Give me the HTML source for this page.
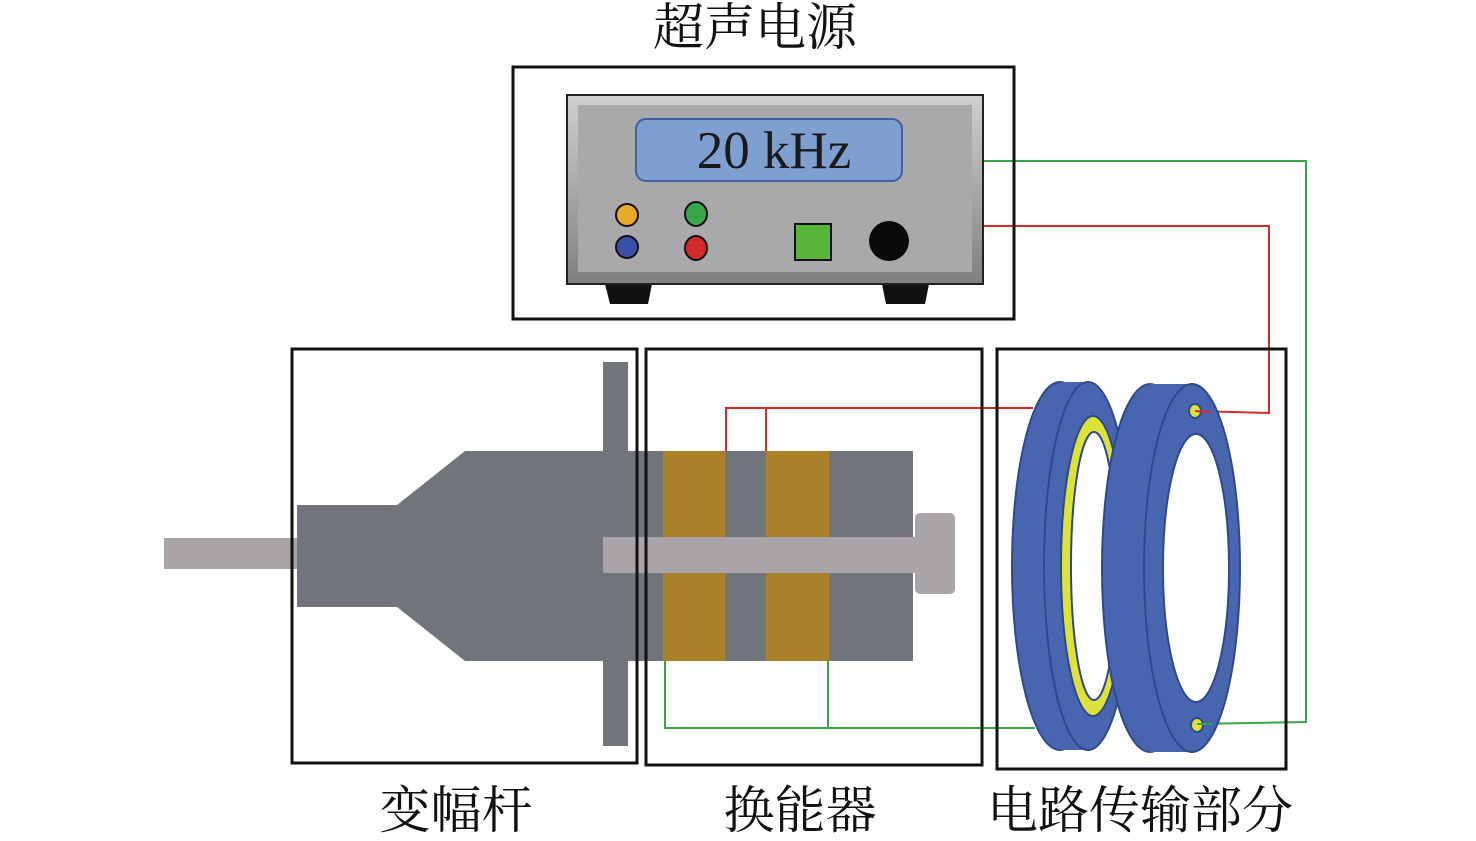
<!DOCTYPE html>
<html><head><meta charset="utf-8"><style>body{margin:0;background:#fff}svg{display:block}</style></head><body>
<svg width="1476" height="841" viewBox="0 0 1476 841" xmlns="http://www.w3.org/2000/svg">
<defs>
<linearGradient id="bz" x1="0" y1="0" x2="0" y2="1"><stop offset="0" stop-color="#d0d0d0"/><stop offset="1" stop-color="#808080"/></linearGradient>
</defs>
<g font-family="'Liberation Serif','Noto Serif CJK SC',serif" fill="#111" text-anchor="middle" font-size="51">
<text x="755" y="45">超声电源</text>
<text x="456" y="828">变幅杆</text>
<text x="800" y="828">换能器</text>
<text x="1140" y="828">电路传输部分</text>
</g>
<g fill="none" stroke-width="2">
<polyline points="983,161 1306,161 1306,722 1197,724" stroke="#3aa64a"/>
<polyline points="983,226 1269,226 1269,413 1195,411" stroke="#d42a2a"/>
</g>
<rect x="513" y="67" width="501" height="252" fill="none" stroke="#111" stroke-width="3"/>
<polygon points="605,284 652,284 648,304 610,304" fill="#111"/>
<polygon points="882,284 929,284 925,304 886,304" fill="#111"/>
<rect x="567" y="95" width="416" height="189" fill="url(#bz)" stroke="#222" stroke-width="2"/>
<rect x="578" y="105" width="394" height="167" fill="#a9a9ab"/>
<rect x="636" y="119" width="266" height="62" rx="10" fill="#7f9fd0" stroke="#3f5f9f" stroke-width="2"/>
<text x="774" y="168" font-family="'Liberation Serif',serif" font-size="53" text-anchor="middle" fill="#1a1a1a">20 kHz</text>
<g stroke="#111" stroke-width="2">
<ellipse cx="627" cy="215" rx="11" ry="11" fill="#e8a82a"/>
<ellipse cx="627" cy="247" rx="11" ry="11" fill="#3a4fa8"/>
<ellipse cx="696" cy="214" rx="11" ry="12" fill="#3aa64a"/>
<ellipse cx="696" cy="248" rx="11" ry="12" fill="#d42a2a"/>
<rect x="795" y="224" width="36" height="36" fill="#5ab63a"/>
</g>
<circle cx="889" cy="241" r="20" fill="#0a0a0a"/>
<rect x="164" y="538" width="133" height="31" fill="#a9a4a8"/>
<polygon points="297,505 397,505 465,451 913,451 913,661 465,661 397,607 297,607" fill="#72767c"/>
<rect x="603" y="362" width="25" height="384" fill="#72767c"/>
<rect x="663" y="451" width="62" height="210" fill="#a8812a"/>
<rect x="766" y="451" width="63" height="210" fill="#a8812a"/>
<rect x="603" y="537" width="312" height="36" fill="#a9a4a8"/>
<rect x="915" y="513" width="40" height="81" rx="5" fill="#a9a4a8"/>
<g fill="none" stroke-width="2">
<polyline points="726,451 726,408 1033,408" stroke="#d42a2a"/>
<line x1="766" y1="408" x2="766" y2="451" stroke="#d42a2a"/>
<polyline points="665,661 665,728 1035,728" stroke="#3aa64a"/>
<line x1="828" y1="661" x2="828" y2="728" stroke="#3aa64a"/>
</g>
<g fill="none" stroke="#111" stroke-width="3">
<rect x="292" y="349" width="345" height="414"/>
<rect x="646" y="349" width="336" height="416"/>
<rect x="997" y="349" width="289" height="420"/>
</g>
<g stroke="#2f4a8a" stroke-width="2">
<ellipse cx="1060" cy="566" rx="48" ry="184" fill="#4866b0"/>
<rect x="1060" y="382" width="28" height="368" fill="#4866b0" stroke="none"/>
<ellipse cx="1088" cy="566" rx="44" ry="184" fill="#4866b0"/>
<ellipse cx="1093" cy="566" rx="32" ry="150" fill="#dde23a"/>
<ellipse cx="1094" cy="566" rx="23" ry="134" fill="#fff"/>
<ellipse cx="1150" cy="568" rx="48" ry="184" fill="#4866b0"/>
<rect x="1150" y="384" width="42" height="368" fill="#4866b0" stroke="none"/>
<ellipse cx="1192" cy="568" rx="48" ry="184" fill="#4866b0"/>
<ellipse cx="1196" cy="568" rx="33" ry="134" fill="#fff"/>
<ellipse cx="1195" cy="411" rx="6" ry="7" fill="#dde23a"/>
<ellipse cx="1197" cy="725" rx="6" ry="7" fill="#dde23a"/>
</g>
<g fill="none" stroke-width="2">
<line x1="1195" y1="411" x2="1210" y2="412" stroke="#d42a2a"/>
<line x1="1197" y1="724" x2="1212" y2="724" stroke="#3aa64a"/>
</g>
</svg>
</body></html>
